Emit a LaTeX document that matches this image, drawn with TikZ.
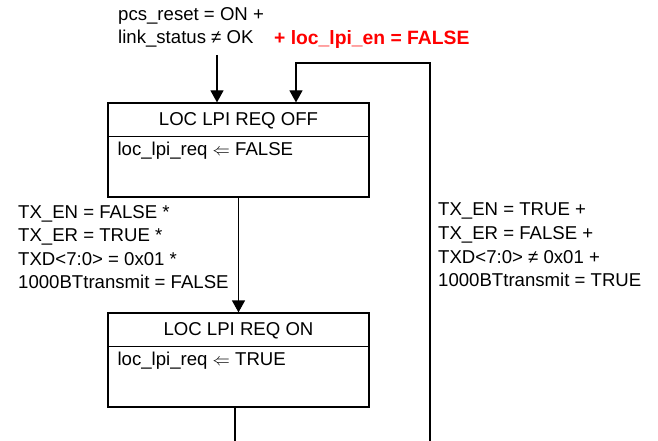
\documentclass[tikz,border=0pt]{standalone}
\usepackage{fontspec}
\setmainfont{Liberation Sans}
\usetikzlibrary{arrows.meta,positioning}

\tikzset{
    statebox/.style={draw=black, line width=1.2pt, minimum width=261pt, minimum height=94pt, inner sep=0pt},
    statetitle/.style={anchor=base},
    action/.style={anchor=base west, inner sep=0pt},
    cond/.style={align=left, anchor=north west, inner sep=0pt},
    wire/.style={draw=black, line width=1.2pt},
    trans/.style={wire, -{Triangle[width=13pt,length=12pt]}},
}

\begin{document}
\begin{tikzpicture}[x=1pt, y=-1pt, every node/.style={font=\fontsize{18.6}{23.6}\selectfont}]

    \useasboundingbox (0,0) rectangle (658,441);

    % LOC LPI REQ OFF
    \node[statebox] (off) at (238.5,150) {};
    \node[statetitle] (offname) at ([yshift=-23.5pt]off.north) {LOC LPI REQ OFF};
    \draw[wire] ([yshift=-34pt]off.north west) -- ([yshift=-34pt]off.north east);
    \node[action] (offact) at ([xshift=10pt,yshift=-53pt]off.north west) {loc\_lpi\_req $\Leftarrow$ FALSE};

    % LOC LPI REQ ON
    \node[statebox] (on) at (238.5,360) {};
    \node[statetitle] (onname) at ([yshift=-23.5pt]on.north) {LOC LPI REQ ON};
    \draw[wire] ([yshift=-34pt]on.north west) -- ([yshift=-34pt]on.north east);
    \node[action] (onact) at ([xshift=10pt,yshift=-53pt]on.north west) {loc\_lpi\_req $\Leftarrow$ TRUE};

    % transition conditions
    \node[cond] (resetcond) at (118,7) {pcs\_reset = ON +\\link\_status ≠ OK};
    \node[cond, text=red, font=\fontsize{19.3}{23.6}\selectfont\bfseries] (lpicond) at (274,30.5) {+ loc\_lpi\_en = FALSE};
    \node[cond] (entercond) at (18,205) {TX\_EN = FALSE *\\TX\_ER = TRUE *\\TXD<7:0> = 0x01 *\\1000BTtransmit = FALSE};
    \node[cond] (leavecond) at (438,203) {TX\_EN = TRUE +\\TX\_ER = FALSE +\\TXD<7:0> ≠ 0x01 +\\1000BTtransmit = TRUE};

    % connectors
    \coordinate (entry) at (217,55);
    \coordinate (looptop) at (296,63);
    \coordinate (loopin) at (430,441);
    \coordinate (exit) at (235,441);

    \draw[trans] (entry) -- (entry |- off.north);
    \draw[trans] (off.south) -- (on.north);
    \draw[wire] (exit |- on.south) -- (exit);
    \draw[trans] (loopin) |- (looptop) -- (looptop |- off.north);

\end{tikzpicture}
\end{document}
